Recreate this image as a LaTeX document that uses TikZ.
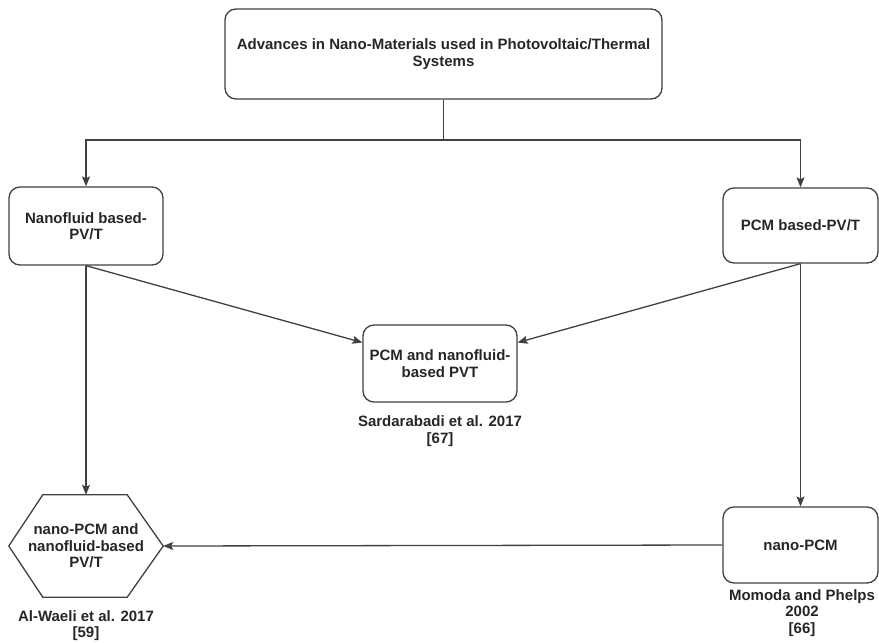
\documentclass[tikz,border=0pt]{standalone}
\usepackage{fontspec}
\setmainfont{Liberation Sans}
\usepackage{tikz}
\usetikzlibrary{arrows.meta}

\begin{document}
\begin{tikzpicture}[x=1pt, y=-1pt,
        every node/.style={font=\fontsize{15}{16.5}\selectfont\bfseries, text=black!85},
        box/.style={draw=black!75, line width=1.3pt, rounded corners=11pt, align=center, minimum width=154pt, minimum height=77pt},
        ref/.style={align=center},
        link/.style={->, draw=black!75, line width=1.3pt},
        >={Stealth[length=10pt, width=8pt, inset=2pt]}]
        \useasboundingbox (0,0) rectangle (879,643);
        \node(top) [box, minimum width=437pt, minimum height=90pt] at (443.5, 54) {Advances in Nano-Materials used in Photovoltaic/Thermal\\Systems};
        \node(nfl) [box, minimum height=78pt] at (86, 226) {Nanofluid based-\\PV/T};
        \node(pcm) [box, minimum width=155pt, minimum height=75pt] at (800.5, 225.5) {PCM based-PV/T};
        \node(both) [box] at (440, 363.5) {PCM and nanofluid-\\based PVT};
        \node(npcm) [box, minimum width=155pt, minimum height=76pt] at (800.5, 545) {nano-PCM};
        \node(hex) [minimum width=154pt, minimum height=102pt, align=center] at (86, 546) {nano-PCM and\\nanofluid-based\\PV/T};
        \draw[draw=black!75, line width=1.3pt] ([xshift=34pt]hex.north west) -- ([xshift=-36pt]hex.north east) -- (hex.east) -- ([xshift=-36pt]hex.south east) -- ([xshift=34pt]hex.south west) -- (hex.west) -- cycle;
        \node(ref1) [ref] at (440, 431) {Sardarabadi et al. 2017\\[0pt][67]};
        \node(ref2) [ref] at (86, 625.5) {Al-Waeli et al. 2017\\[0pt][59]};
        \node(ref3) [ref] at (802, 613) {Momoda and Phelps\\2002\\[0pt][66]};
        \coordinate(split) at (443.5, 140);
        \draw[link] (top.south) -- (split) -| (nfl.north);
        \draw[link] (split) -| (pcm.north);
        \draw[link] (nfl.south) -- ([yshift=21pt]both.west);
        \draw[link] (pcm.south) -- ([yshift=21pt]both.east);
        \draw[link] (nfl.south) -- (hex.north);
        \draw[link] (pcm.south) -- (npcm.north);
        \draw[link] (npcm.west) -- (hex.east);
    \end{tikzpicture}
\end{document}
